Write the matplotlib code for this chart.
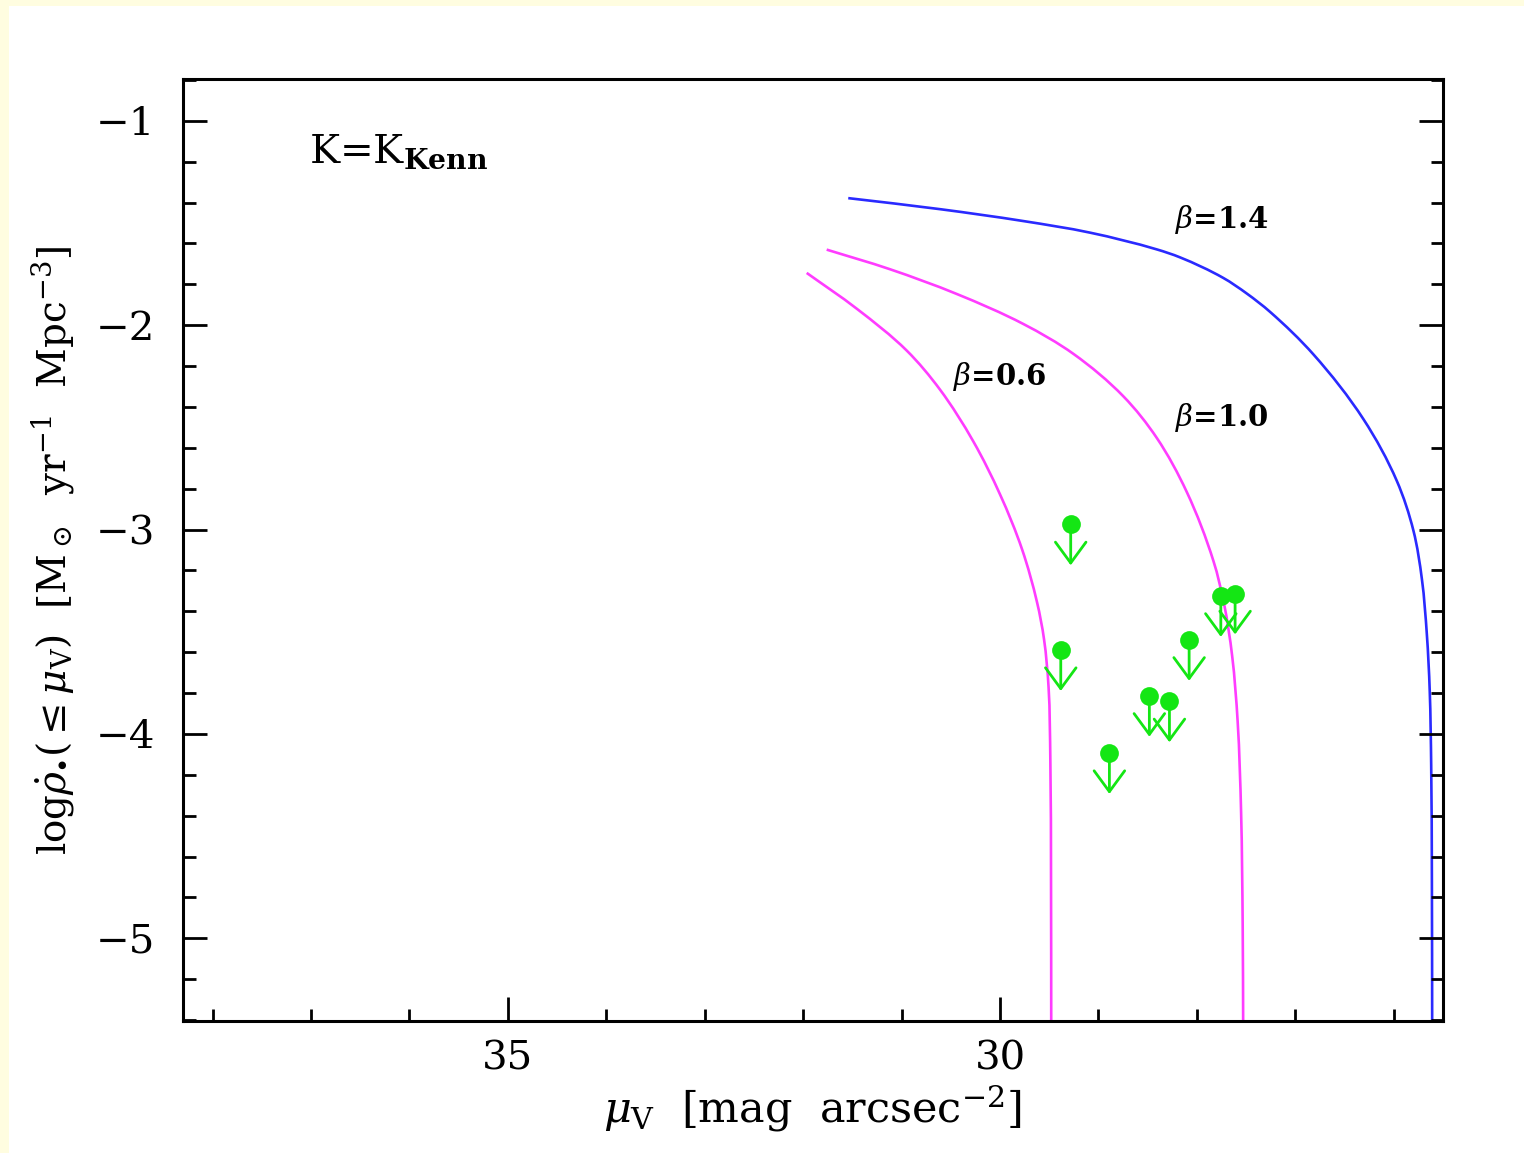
import matplotlib
matplotlib.use("Agg")
import numpy as np
import matplotlib.pyplot as plt
from matplotlib.patches import Rectangle, PathPatch
from matplotlib.path import Path

# Cumulative star-formation-rate density curves for three beta values
mu_b06 = [31.964, 31.456, 30.948, 30.610, 30.271, 30.000, 29.776, 29.624, 29.553, 29.507, 29.489, 29.482, 29.480]
rho_b06 = [-1.744, -1.919, -2.124, -2.315, -2.569, -2.828, -3.097, -3.356, -3.537, -3.771, -4.123, -4.710, -5.45]

mu_b10 = [31.761, 31.118, 30.440, 29.763, 29.255, 28.747, 28.407, 28.103, 27.832, 27.724, 27.642, 27.586,
          27.551, 27.535, 27.530]
rho_b10 = [-1.630, -1.726, -1.847, -1.994, -2.140, -2.348, -2.552, -2.816, -3.154, -3.364, -3.618, -3.940,
           -4.385, -4.933, -5.45]

mu_b14 = [31.542, 30.610, 29.766, 29.085, 28.407, 28.171, 27.734, 27.493, 27.256, 26.816, 26.308, 25.969,
          25.800, 25.714, 25.664, 25.635, 25.620, 25.613, 25.610]
rho_b14 = [-1.378, -1.432, -1.490, -1.547, -1.629, -1.668, -1.768, -1.845, -1.935, -2.143, -2.460, -2.762,
           -3.006, -3.244, -3.513, -3.786, -4.153, -4.700, -5.45]

# Upper limits from individual fields
mu_lim = [29.282, 29.383, 28.483, 28.279, 28.889, 28.079, 27.757, 27.612]
rho_lim = [-2.975, -3.590, -3.814, -3.841, -4.094, -3.540, -3.325, -3.313]

curve_labels = [r"$\beta$=0.6", r"$\beta$=1.0", r"$\beta$=1.4"]
xticks = [35, 30]
yticks = [-1, -2, -3, -4, -5]

plt.rcParams["font.family"] = ["DejaVu Serif"]
plt.rcParams["mathtext.fontset"] = "dejavuserif"
plt.rcParams["axes.unicode_minus"] = True


def smooth_curve(ax, xs, ys):
    """Cubic Bezier path through every data vertex, tangents built in display space."""
    P = ax.transData.transform(np.column_stack([xs, ys]))
    n = len(P)
    seg = P[1:] - P[:-1]
    seglen = np.hypot(seg[:, 0], seg[:, 1])
    unit = seg / seglen[:, None]
    tang = np.zeros_like(P)
    tang[0] = unit[0]
    tang[-1] = unit[-1]
    for i in range(1, n - 1):
        t = unit[i - 1] + unit[i]
        tang[i] = t / np.hypot(*t)
    verts = [P[0]]
    codes = [Path.MOVETO]
    for i in range(n - 1):
        d = seglen[i] / 3
        verts += [P[i] + tang[i] * d, P[i + 1] - tang[i + 1] * d, P[i + 1]]
        codes += [Path.CURVE4] * 3
    data_verts = ax.transData.inverted().transform(np.array(verts))
    return Path(data_verts, codes)


fig = plt.figure(figsize=(15.24, 11.53), dpi=100, facecolor="#fffde0")
fig.patches.append(Rectangle((9 / 1524, 0), 1, 1 - 6 / 1153, transform=fig.transFigure,
                             facecolor="white", edgecolor="none", zorder=-10))

ax = fig.add_axes([183 / 1524, 1 - 1021 / 1153, (1443 - 183) / 1524, (1021 - 79) / 1153])
ax.set_zorder(5)
ax.set_xlim(38.3, 25.5)
ax.set_ylim(-5.405, -0.795)

magenta = "#ff3cff"
blue = "#2a2aff"
green = "#14e614"

for xs, ys, col in [(mu_b06, rho_b06, magenta), (mu_b10, rho_b10, magenta), (mu_b14, rho_b14, blue)]:
    ax.add_patch(PathPatch(smooth_curve(ax, xs, ys), facecolor="none", edgecolor=col, lw=1.9,
                           capstyle="butt"))

arrow_len = 0.2
for x, y in zip(mu_lim, rho_lim):
    ax.annotate("", xy=(x, y - arrow_len), xytext=(x, y),
                arrowprops=dict(arrowstyle="->,head_length=0.75,head_width=0.55",
                                color=green, lw=2.0, shrinkA=0, shrinkB=0,
                                mutation_scale=20))
ax.plot(mu_lim, rho_lim, "o", color=green, ms=13.5, mec="none", zorder=5)

lab_kw = dict(fontsize=21, fontweight="bold", ha="left", va="center")
ax.text(30.48, -2.25, curve_labels[0], **lab_kw)
ax.text(28.22, -2.45, curve_labels[1], **lab_kw)
ax.text(28.22, -1.485, curve_labels[2], **lab_kw)

ax.text(0.1, 0.923, r"K=K$_{\mathbf{Kenn}}$", transform=ax.transAxes, fontsize=29,
        ha="left", va="center")

ax.set_xticks(xticks)
ax.set_xticks(range(26, 39), minor=True)
ax.set_yticks(yticks)
ax.set_yticks([v / 10 for v in range(-54, -7, 2)], minor=True)

ax.tick_params(which="both", direction="in", width=2.0, bottom=True, left=True,
               right=True, top=False, labelsize=29)
ax.tick_params(which="major", length=17, pad=14)
ax.tick_params(which="minor", length=9)
ax.tick_params(axis="y", which="major", pad=20)
for s in ax.spines.values():
    s.set_linewidth(2.2)

ax.set_xlabel(r"$\mu_{\rm V}$  [mag  arcsec$^{-2}$]", fontsize=31, labelpad=4)
ax.set_ylabel(r"log$\dot{\rho}_{\bullet}$($\leq\mu_{\rm V}$)  [M$_\odot$  yr$^{-1}$  Mpc$^{-3}$]",
              fontsize=28, labelpad=14)

fig.savefig("out.png", dpi=100, facecolor=fig.get_facecolor())
